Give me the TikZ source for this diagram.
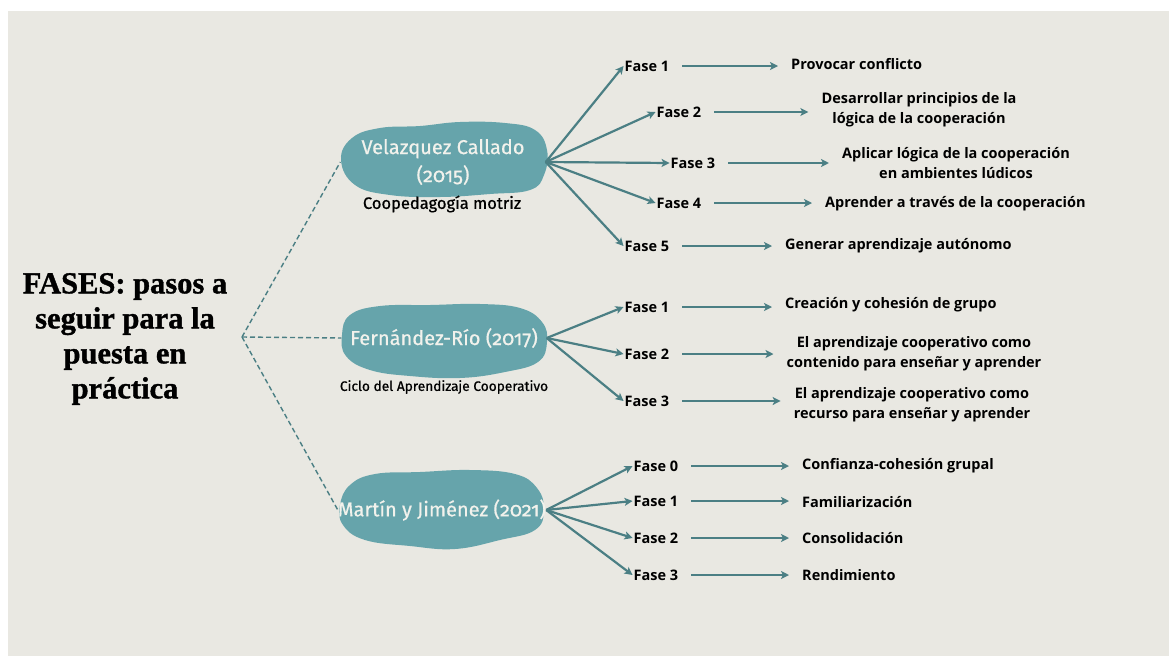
\documentclass[tikz,border=0pt]{standalone}
\usepackage{fontspec}
\usetikzlibrary{arrows.meta}
\setmainfont[BoldFeatures={FakeBold=1.2}]{Liberation Serif}
\newfontfamily\fasefont{Open Sans}
\newfontfamily\blobfont[Numbers=OldStyle,FakeBold=0.6]{Fira Sans}
\definecolor{papel}{HTML}{E9E8E2}
\definecolor{azul}{HTML}{66A4AB}
\definecolor{flecha}{HTML}{4B7F84}
\definecolor{blanco}{HTML}{F2F2EC}
\begin{document}
\begin{tikzpicture}[x=1pt,y=-1pt,
    fase/.style={font=\fasefont\bfseries\fontsize{14.5}{20}\selectfont,inner sep=1pt},
    desc/.style={font=\fasefont\bfseries\fontsize{14.5}{20}\selectfont,align=center,inner sep=0pt},
    blob/.style={minimum width=205pt,minimum height=70pt,inner sep=0pt,align=center,
        text=blanco,font=\blobfont\fontsize{20}{28}\selectfont},
    sub/.style={font=\blobfont\fontsize{16.5}{18}\selectfont},
    rama/.style={draw=flecha,line width=2.2pt,-{Stealth[length=8pt,width=8pt,inset=2pt]}},
    paso/.style={draw=flecha,line width=2pt,-{Stealth[length=8pt,width=8pt,inset=2pt]},
        shorten <=12pt,shorten >=13pt},
    guia/.style={draw=flecha,line width=1.4pt,dash pattern=on 5pt off 3pt}]
    \useasboundingbox (0,0) rectangle (1169,656);
    \fill[white] (0,0) rectangle (1169,656);
    \fill[papel] (8,11) rectangle (1169,656);

    \fill[azul] plot[smooth cycle,tension=0.7] coordinates {(341,160) (352,138) (380,128) (420,126)
        (460,122) (505,123) (535,130) (547,150) (544,175) (530,190) (490,194) (440,197) (390,195) (355,185)};
    \fill[azul] plot[smooth cycle,tension=0.7] coordinates {(342,335) (350,315) (380,306) (430,305)
        (480,304) (520,308) (542,322) (547,342) (538,362) (505,372) (460,378) (410,376) (370,370) (346,356)};
    \fill[azul] plot[smooth cycle,tension=0.7] coordinates {(340,505) (350,485) (375,474) (420,472)
        (470,470) (515,474) (537,488) (544,510) (535,530) (500,540) (455,549) (410,546) (365,540) (343,525)};

    \node[align=center,font=\bfseries\fontsize{30.5}{35}\selectfont] (titulo) at (125,339)
        {FASES: pasos a\\seguir para la\\puesta en\\práctica};
    \coordinate (hub) at (242,337);

    \node[blob] (vel) at (443,162) {Velazquez Callado\\(2015)};
    \node[blob] (fer) at (444,338) {Fernández-Río (2017)};
    \node[blob] (mar) at (442,510) {Martín y Jiménez (2021)};
    \node[sub] (velsub) at (442,204) {Coopedagogía motriz};
    \node[sub,font=\blobfont\fontsize{13.7}{15}\selectfont] (fersub) at (444,387) {Ciclo del Aprendizaje Cooperativo};

    \draw[guia] (hub) -- (vel.west);
    \draw[guia] (hub) -- (fer.west);
    \draw[guia] (hub) -- (mar.west);

    \node[fase] (v1) at (647,66) {Fase 1};
    \node[fase] (v2) at (679,112) {Fase 2};
    \node[fase] (v3) at (693,163) {Fase 3};
    \node[fase] (v4) at (679,203) {Fase 4};
    \node[fase] (v5) at (647,246) {Fase 5};
    \node[desc,anchor=west] (dv1) at (791,64) {Provocar conflicto};
    \node[desc] (dv2) at (919,110) {Desarrollar principios de la\\lógica de la cooperación};
    \node[desc] (dv3) at (956,163) {Aplicar lógica de la cooperación\\en ambientes lúdicos};
    \node[desc,anchor=west] (dv4) at (825,204) {Aprender a través de la cooperación};
    \node[desc,anchor=west] (dv5) at (785,246) {Generar aprendizaje autónomo};

    \node[fase] (f1) at (647,307) {Fase 1};
    \node[fase] (f2) at (647,354) {Fase 2};
    \node[fase] (f3) at (647,401) {Fase 3};
    \node[desc,anchor=west] (df1) at (785,305) {Creación y cohesión de grupo};
    \node[desc] (df2) at (914,354) {El aprendizaje cooperativo como\\contenido para enseñar y aprender};
    \node[desc] (df3) at (912,405) {El aprendizaje cooperativo como\\recurso para enseñar y aprender};

    \node[fase] (m0) at (656,466) {Fase 0};
    \node[fase] (m1) at (656,501) {Fase 1};
    \node[fase] (m2) at (656,538) {Fase 2};
    \node[fase] (m3) at (656,575) {Fase 3};
    \node[desc,anchor=west] (dm0) at (802,466) {Confianza-cohesión grupal};
    \node[desc,anchor=west] (dm1) at (802,502) {Familiarización};
    \node[desc,anchor=west] (dm2) at (802,538) {Consolidación};
    \node[desc,anchor=west] (dm3) at (802,575) {Rendimiento};

    \foreach \n in {v1,v2,v3,v4,v5} \draw[rama] (vel.east) -- (\n.west);
    \foreach \n in {f1,f2,f3} \draw[rama] (fer.east) -- (\n.west);
    \foreach \n in {m0,m1,m2,m3} \draw[rama] (mar.east) -- (\n.west);

    \foreach \n in {v1,v2,v3,v4,v5,f1,f2,f3,m0,m1,m2,m3}
        \draw[paso] (\n.east) -- (\n.east -| d\n.west);
\end{tikzpicture}
\end{document}
